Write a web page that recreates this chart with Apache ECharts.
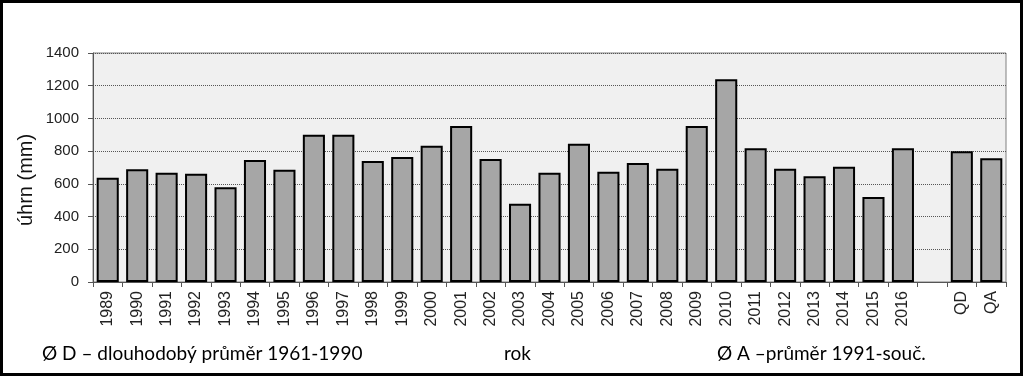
<!DOCTYPE html>
<html>
<head>
<meta charset="utf-8">
<script src="https://cdn.jsdelivr.net/npm/echarts@6/dist/echarts.min.js"></script>
<style>
  html, body { margin: 0; padding: 0; background: #fff; }
  #chart { width: 1023px; height: 376px; }
</style>
</head>
<body>
<div id="chart"></div>
<script>
const years = ['1989', '1990', '1991', '1992', '1993', '1994', '1995', '1996', '1997', '1998',
  '1999', '2000', '2001', '2002', '2003', '2004', '2005', '2006', '2007', '2008',
  '2009', '2010', '2011', '2012', '2013', '2014', '2015', '2016', '', 'QD', 'QA']
const totals = [637, 690, 668, 662, 579, 746, 687, 900, 900, 740,
  764, 833, 954, 752, 479, 668, 845, 674, 727, 693,
  954, 1239, 817, 693, 646, 705, 520, 817, null, 799, 756]
const yTicks = [0, 200, 400, 600, 800, 1000, 1200, 1400]

const chart = echarts.init(document.getElementById('chart'), null, { renderer: 'canvas' })
const font = '"Liberation Sans", Arial, sans-serif'
const noteFont = 'Lato, "Open Sans", sans-serif'

chart.setOption({
  animation: false,
  backgroundColor: '#fff',
  grid: {
    left: 93, right: 17, top: 53, bottom: 94,
    show: true,
    backgroundColor: '#f0f0f0',
    borderColor: '#808080',
    borderWidth: 1,
  },
  xAxis: {
    type: 'category',
    data: years,
    axisLine: { lineStyle: { color: '#555', width: 1 } },
    axisTick: { show: true, alignWithLabel: false, length: 5, lineStyle: { color: '#555' } },
    axisLabel: {
      rotate: 90, margin: 9, interval: 0,
      color: '#222', fontSize: 16, fontFamily: font,
    },
  },
  yAxis: {
    type: 'value',
    min: yTicks[0],
    max: yTicks[yTicks.length - 1],
    interval: 200,
    axisLine: { show: true, lineStyle: { color: '#555' } },
    axisTick: { show: true, length: 5, lineStyle: { color: '#555' } },
    axisLabel: {
      margin: 14, color: '#222', fontSize: 15, fontFamily: font,
      formatter: (v) => String(v),
    },
    splitLine: { lineStyle: { color: '#555', type: [1, 1], width: 1 } },
  },
  series: [{
    type: 'bar',
    data: totals,
    barCategoryGap: '25%',
    itemStyle: { color: '#a6a6a6', borderColor: '#000', borderWidth: 2 },
  }],
  graphic: [
    {
      type: 'rect',
      shape: { x: 1.5, y: 1.5, width: 1020, height: 373 },
      style: { fill: 'none', stroke: '#000', lineWidth: 3 },
    },
    {
      type: 'text', x: 26, y: 180, rotation: Math.PI / 2,
      style: {
        text: 'úhrn (mm)', fontSize: 20, fontFamily: font, fill: '#111',
        align: 'center', verticalAlign: 'middle',
      },
    },
    {
      type: 'text', left: 42, top: 344,
      style: { text: 'Ø D – dlouhodobý průměr 1961-1990', fontSize: 19, fontFamily: noteFont, fill: '#000' },
    },
    {
      type: 'text', left: 504, top: 344,
      style: { text: 'rok', fontSize: 19, fontFamily: noteFont, fill: '#000' },
    },
    {
      type: 'text', left: 717, top: 344,
      style: { text: 'Ø A –průměr 1991-souč.', fontSize: 19, fontFamily: noteFont, fill: '#000' },
    },
  ],
})
</script>
</body>
</html>
